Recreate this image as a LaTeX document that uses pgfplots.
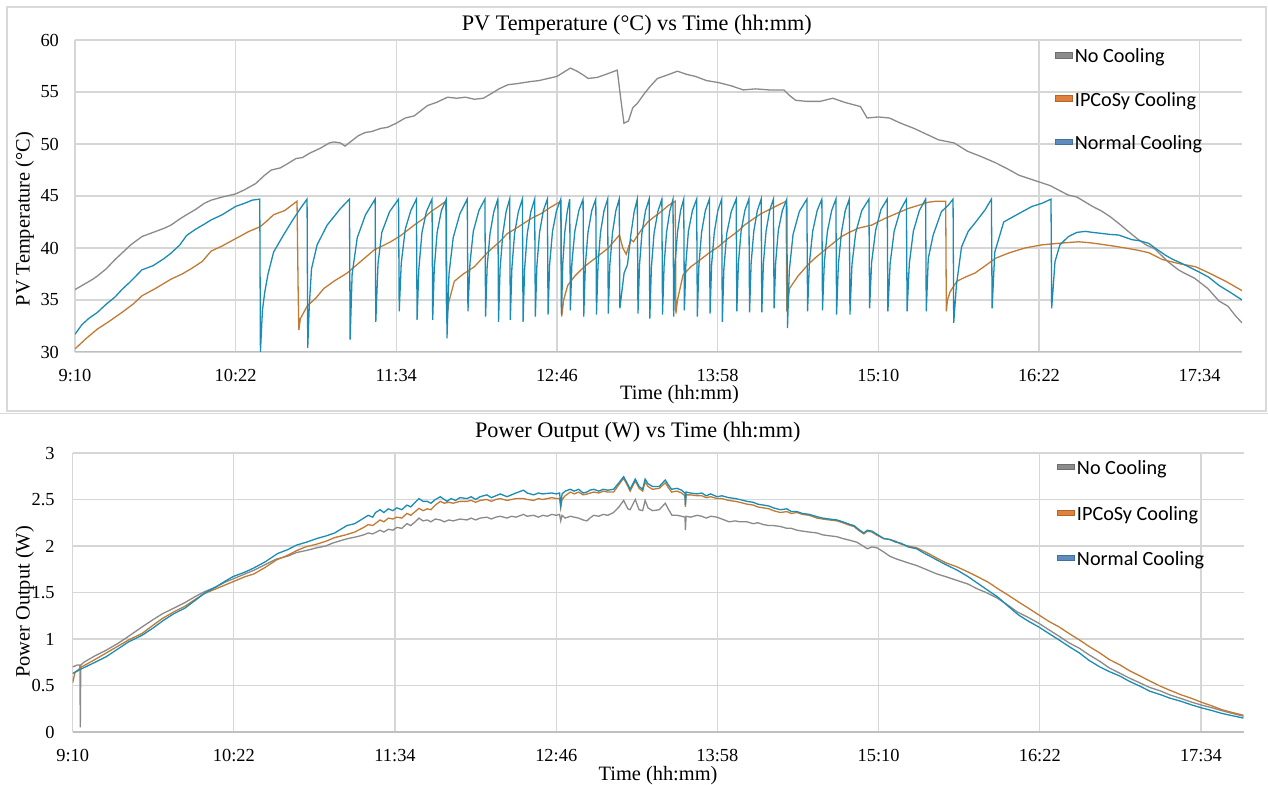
\documentclass[border=0pt]{standalone}
\usepackage{pgfplots}
\pgfplotsset{compat=1.18}
\usepackage{fontspec}
\setmainfont{Liberation Serif}
\newfontfamily\legendfont{Carlito}

\definecolor{nocool}{HTML}{8A8A8A}
\definecolor{ipcosy}{HTML}{C27A33}
\definecolor{normal}{HTML}{1A8BB4}
\definecolor{legGray}{HTML}{8C8C8C}
\definecolor{legGrayD}{HTML}{6E6E6E}
\definecolor{legOrange}{HTML}{E0803D}
\definecolor{legOrangeD}{HTML}{B5652B}
\definecolor{legBlue}{HTML}{5E8BC0}
\definecolor{legBlueD}{HTML}{41719C}
\definecolor{gridgray}{HTML}{D6D6D6}
\definecolor{axisgray}{HTML}{BFBFBF}
\definecolor{framegray}{HTML}{D9D9D9}

\pgfplotsset{
  panel/.style={
    scale only axis, anchor=south west,
    xmin=0, xmax=523,
    xtick={0,72,144,216,288,360,432,504},
    xticklabels={9:10,10:22,11:34,12:46,13:58,15:10,16:22,17:34},
    axis line style={draw=none},
    tick style={draw=none}, major tick length=0pt,
    grid=major,
    major grid style={draw=gridgray, line width=0.6pt},
    tick label style={font=\fontsize{9.2}{11}\selectfont},
    /pgf/number format/assume math mode=true,
    xticklabel style={yshift=-5pt},
    legend cell align=left,
    legend style={draw=none, fill=none, anchor=north west, inner sep=0pt,
      font=\legendfont\fontsize{10.1}{12}\selectfont,
      nodes={inner sep=1pt}, row sep=11pt},
  },
  legGray/.style={legend image code/.code={\draw[fill=legGray, draw=legGrayD, line width=0.4pt] (0pt,-0.3pt) rectangle (8.8pt,2.3pt);}},
  legOrange/.style={legend image code/.code={\draw[fill=legOrange, draw=legOrangeD, line width=0.4pt] (0pt,-0.3pt) rectangle (8.8pt,2.3pt);}},
  legBlue/.style={legend image code/.code={\draw[fill=legBlue, draw=legBlueD, line width=0.4pt] (0pt,-0.3pt) rectangle (8.8pt,2.3pt);}},
}

\begin{document}
\begin{tikzpicture}
\path[use as bounding box] (0pt,0pt) rectangle (634pt,-392.5pt);
\draw[framegray, line width=0.6pt] (3.5pt,-3.5pt) rectangle (633pt,-205.5pt);
\draw[framegray, line width=0.6pt] (0pt,-206.8pt) -- (634pt,-206.8pt);

% ---------------- PV temperature ----------------
\begin{axis}[panel, at={(37.5pt,-176pt)}, width=583.5pt, height=156pt,
  ymin=30, ymax=60, ytick={30,35,...,60},
  yticklabel style={xshift=-4.5pt},
  legend style={at={(rel axis cs:0.839,0.979)}}]
\draw[axisgray, line width=0.7pt] (rel axis cs:0,0) -- (rel axis cs:1,0);
% No Cooling
\addplot[nocool, line width=0.65pt, forget plot] table {
0 36.0
4 36.5
8 37.0
10 37.3
14 38.0
18 38.9
21 39.5
25 40.3
30 41.1
35 41.5
40 41.9
43 42.2
47 42.8
50 43.2
54 43.7
58 44.3
61 44.6
66 44.9
72 45.2
76 45.6
81 46.2
85 47.0
88 47.5
92 47.7
96 48.2
99 48.6
102 48.7
105 49.1
110 49.6
114 50.1
116 50.2
119 50.1
121 49.8
124 50.3
127 50.8
130 51.1
133 51.2
137 51.5
140 51.6
144 52.0
148 52.5
152 52.7
155 53.2
158 53.7
162 54.0
165 54.3
167 54.5
171 54.4
175 54.5
179 54.3
183 54.4
187 54.9
190 55.3
194 55.7
198 55.8
201 55.9
204 56.0
208 56.1
212 56.3
216 56.5
219 56.9
222 57.3
225 57.0
228 56.6
230 56.3
234 56.4
238 56.7
243 57.1
244.5 54.5
246 52.0
248 52.2
250 53.5
252 53.9
255 54.8
257.6 55.5
261 56.3
265 56.6
270 57.0
274 56.7
278 56.5
283 56.1
288.5 55.9
294 55.6
299.5 55.2
305 55.3
311 55.2
317.7 55.2
320 54.7
323 54.2
328 54.1
334 54.1
339.6 54.4
345 54.0
352 53.6
355 52.5
360 52.6
365 52.5
370 52.0
376 51.5
382 50.9
387 50.4
394 50.1
400 49.3
406 48.8
412.5 48.2
418 47.6
423 47.0
430 46.5
437 46.0
445 45.1
449 44.9
456 44.0
459.7 43.6
464 43.0
468.7 42.2
472 41.6
476 40.9
480 40.3
484 39.9
489.7 38.7
494.5 37.9
497 37.6
501.7 37.1
507.7 36.1
512.7 34.9
516.7 34.4
520 33.5
523 32.8
};
% IPCoSy Cooling
\addplot[ipcosy, line width=0.65pt, forget plot] table {
0 30.3
5 31.3
10 32.2
15 32.9
21 33.8
26 34.6
30 35.4
36 36.1
43 37.0
48 37.5
52 38.0
57 38.7
61 39.7
66 40.2
72 40.9
78 41.6
83 42.05
86 42.6
89 43.2
94 43.6
99.5 44.5
100 36.0
100.3 32.1
101 33.2
104 34.4
108 35.2
111.5 36.1
116 36.8
122 37.6
128 38.7
134 39.8
141.5 40.6
146 41.2
152 42.2
156 42.8
159.5 43.5
163 44.0
166.2 44.5
166.4 35.0
166.6 33.1
167.5 34.8
170 36.8
174 37.5
179 38.2
185 39.6
190.3 40.6
193.8 41.4
197 41.8
201.3 42.4
205 42.9
208.8 43.3
213 43.9
217.8 44.5
218.1 33.4
219 35.0
220.8 36.4
224 37.3
226.8 37.9
230 38.5
234.3 39.2
239 40.0
244 41.25
245.5 40.0
247 39.4
249.2 40.8
250.3 40.6
251.5 41.0
254 41.8
256.7 42.5
259 42.9
262.7 43.5
266 44.1
269 44.5
269.3 33.7
270 35.0
272.5 37.4
276 38.2
279.2 38.7
284 39.5
288.2 40.1
292 40.8
297 41.6
300 42.2
304 42.8
307.5 43.3
313 43.9
318.7 44.5
319 33.9
320.2 36.1
324 37.3
328.5 38.4
332 39.1
336 39.8
340 40.5
343.5 41.1
347 41.5
351 41.9
357 42.2
363 42.85
368 43.3
373.4 43.8
378 44.1
382.4 44.4
386 44.5
390.2 44.5
390.5 33.9
391 35.0
392.2 35.8
395.2 36.8
399 37.2
403.4 37.6
408 38.3
412.4 39.0
418.2 39.5
425.7 40.0
433.2 40.3
440.7 40.45
449.7 40.6
455 40.5
460.2 40.35
465 40.2
470.7 40.0
476 39.8
481.2 39.55
487.2 38.9
494.7 38.5
502.2 38.2
508.2 37.6
515.7 36.8
523 35.9
};
% Normal Cooling
\addplot[normal, line width=0.65pt, forget plot] table {
0 31.7
3 32.6
6 33.2
10 33.8
14 34.6
18 35.3
21 36.0
25 36.8
30 37.9
35 38.3
40 39.0
43 39.5
47 40.3
50 41.2
54 41.8
58 42.3
61 42.7
66 43.2
72 44.0
76 44.3
79.4 44.6
82.8 44.7
83.1 30.0
84 34.0
85 35.7
86.5 37.5
89 39.6
93.3 41.2
97.6 42.7
101 43.8
104 44.7
104.3 30.4
105 34.5
106 38.0
108.5 40.3
113 42.2
119 43.8
123 44.7
123.3 31.2
124.2 37.5
126.5 41.0
130.2 43.2
134.5 44.7
134.8 32.9
135.8 38.5
137.5 41.5
141 43.5
145 44.7
145.3 33.9
146.2 38.5
148 41.8
150.5 43.6
153 44.7
153.3 33.1
154.1 38.0
155.5 41.5
157.5 43.5
160 44.7
160.3 33.1
161 38.0
162.3 41.5
164.2 43.6
166.4 44.7
166.7 31.3
167.6 37.5
169.5 41.0
172.5 43.3
175.8 44.7
176.1 33.9
177 38.5
178.5 41.6
181 43.6
183.7 44.7
184.0 33.4
184.7 38.2
186 41.4
187.7 43.5
189.5 44.7
189.8 32.9
190.5 38.0
191.7 41.3
193.2 43.5
194.8 44.7
195.1 33.1
195.8 38.1
197 41.4
198.7 43.5
200.5 44.7
200.8 32.9
201.5 38.0
202.7 41.4
204.3 43.5
206.0 44.7
206.3 33.4
207 38.3
208.2 41.5
209.9 43.6
211.7 44.7
212.0 33.6
212.7 38.4
214 41.6
215.8 43.6
217.7 44.7
218.0 33.6
218.6 38.5
219.5 41.5
220.6 43.5
221.7 44.7
222.0 34.0
222.7 38.6
224 41.6
225.8 43.6
227.7 44.7
228.0 33.4
228.7 38.3
229.9 41.5
231.6 43.6
233.4 44.7
233.7 33.6
234.4 38.4
235.5 41.5
237.1 43.6
238.7 44.7
239.0 33.7
239.7 38.4
240.9 41.5
242.4 43.6
243.9 44.7
244.2 34.2
244.9 35.5
246.1 37.6
247.6 38.4
249.1 41.25
250.6 43.5
252.0 44.7
252.3 33.7
253 38.4
254.1 41.5
255.7 43.6
257.3 44.7
257.6 33.2
258.3 38.1
259.5 41.4
261.2 43.5
263.0 44.7
263.3 33.6
264 38.3
265.1 41.5
266.6 43.6
268.0 44.7
268.3 33.4
268.9 38.3
270 41.5
271.4 43.6
272.8 44.7
273.1 34.0
273.8 38.6
274.9 41.6
276.7 43.6
278.6 44.7
278.9 33.4
279.6 38.3
280.8 41.5
282.5 43.6
284.3 44.7
284.6 33.7
285.3 38.4
286.5 41.5
288.1 43.6
289.8 44.7
290.1 32.9
290.8 38.0
292.1 41.4
294.1 43.5
296.3 44.7
296.6 33.9
297.3 38.5
298.5 41.6
300.2 43.6
302.0 44.7
302.3 33.8
303 38.5
304.2 41.6
305.8 43.6
307.5 44.7
307.8 33.8
308.5 38.5
309.7 41.6
311.3 43.6
313.0 44.7
313.3 34.2
314 38.6
315.2 41.7
317 43.6
319.0 44.7
319.3 32.3
320.1 37.8
321.8 41.3
324.6 43.5
328.0 44.7
328.3 33.9
329.1 38.5
330.6 41.6
332.6 43.6
334.7 44.7
335.0 34.0
335.8 38.6
337.2 41.6
339.1 43.6
341.0 44.7
341.3 33.6
342.1 38.4
343.5 41.5
345.2 43.6
347.0 44.7
347.3 33.6
348.2 38.4
349.9 41.5
352.6 43.6
355.8 44.7
356.1 34.2
357 38.6
358.8 41.7
361.2 43.7
364.0 44.7
364.3 33.9
365.3 38.5
367.1 41.6
369.8 43.6
372.6 44.7
372.9 33.9
373.9 38.5
375.7 41.6
378.4 43.6
381.2 44.7
381.5 33.9
382.4 39.0
384.6 41.25
388.3 43.5
391.3 44.1
393.5 44.7
393.8 32.8
395 36.4
397.3 40.1
400.3 41.6
403.3 42.4
407.8 43.65
410.7 44.7
411.0 34.2
412.2 39.6
416.2 42.5
422.9 43.3
428.9 44.0
433.4 44.3
437.4 44.7
437.7 34.2
439.2 38.7
441.4 40.3
445.2 41.1
449 41.5
452.7 41.6
456 41.5
460.2 41.4
464 41.3
467.7 41.25
473.7 40.8
477 40.7
481.2 40.45
484 40.0
488.7 39.3
492 38.9
496.2 38.5
500 38.1
503.7 37.7
508 37.2
512.7 36.4
518 35.7
523 35.0
};
\addlegendimage{legGray}
\addlegendentry{No Cooling}
\addlegendimage{legOrange}
\addlegendentry{IPCoSy Cooling}
\addlegendimage{legBlue}
\addlegendentry{Normal Cooling}
\end{axis}

% ---------------- Power output ----------------
\begin{axis}[panel, at={(36.35pt,-366pt)}, width=585.4pt, height=139.5pt,
  ymin=0, ymax=3, ytick={0,0.5,...,3},
  yticklabel style={xshift=-5.5pt},
  legend style={at={(rel axis cs:0.840,0.982)}, row sep=12.3pt}]
\draw[axisgray, line width=0.7pt] (rel axis cs:0,0) -- (rel axis cs:1,0);
% No Cooling
\addplot[nocool, line width=0.65pt, forget plot] table {
0 0.70
2 0.72
3.2 0.72
3.4 0.05
3.6 0.72
5 0.75
10 0.82
15 0.88
20 0.95
25 1.03
31 1.13
36 1.21
40 1.27
45 1.33
50 1.39
55 1.46
59 1.51
64 1.56
68 1.61
72 1.65
77 1.70
81 1.74
86 1.80
91 1.86
96 1.89
100 1.93
104 1.95
109 1.98
113 2.00
116 2.03
120 2.06
123 2.08
127 2.10
130 2.12
132 2.14
134 2.13
137.3 2.17
139 2.15
141 2.18
143 2.17
144.8 2.20
147 2.19
149.3 2.24
151 2.22
153 2.26
154.7 2.30
156.5 2.27
158.4 2.28
160 2.26
162 2.29
164.2 2.28
166 2.26
168 2.28
170 2.27
173 2.29
176.1 2.28
178 2.30
180 2.28
182 2.30
185 2.31
187 2.29
189 2.31
191 2.32
194 2.30
196 2.32
198 2.31
201.4 2.34
203 2.32
205.9 2.33
208 2.31
210 2.33
212 2.32
214 2.34
216 2.33
217.5 2.34
218 2.27
218.6 2.33
220 2.30
222.3 2.32
224 2.31
226 2.30
228 2.28
229.7 2.27
231 2.30
232.7 2.33
235 2.32
237 2.34
239 2.33
241.6 2.36
244 2.42
246.1 2.49
248 2.40
249 2.39
251.3 2.50
253 2.39
254.6 2.38
255.7 2.49
257 2.41
259 2.38
262 2.39
264.7 2.46
266 2.40
267.7 2.33
270 2.33
272 2.32
273.5 2.31
273.7 2.17
274 2.32
276 2.31
278.9 2.33
281 2.32
283 2.30
285 2.32
287.8 2.31
290 2.29
293.2 2.26
296 2.27
298 2.26
301.2 2.26
304 2.24
306 2.25
308.6 2.23
311 2.22
313 2.22
316.1 2.21
319 2.19
321 2.19
323.5 2.17
326 2.16
329 2.15
332.5 2.14
335 2.12
338 2.11
341.4 2.10
344 2.08
347.4 2.06
350.4 2.04
353 2.00
355 1.97
357 1.99
359.3 1.98
362 1.94
365 1.89
368 1.86
373 1.82
377 1.79
381 1.75
386 1.70
390 1.67
395 1.63
400 1.59
404 1.54
408 1.50
413 1.44
418 1.36
422 1.29
427 1.23
431.5 1.17
436 1.10
440.6 1.03
445 0.96
449.7 0.90
454 0.83
458.8 0.76
463 0.69
467.9 0.63
472 0.58
477 0.525
481 0.48
486.1 0.44
490 0.40
495.1 0.36
500 0.32
504.2 0.29
509 0.26
513.3 0.23
518 0.20
523 0.17
};
% IPCoSy Cooling
\addplot[ipcosy, line width=0.65pt, forget plot] table {
0 0.53
1 0.64
4 0.70
10 0.78
15 0.85
20 0.92
25 0.99
31 1.06
36 1.15
40 1.22
45 1.29
50 1.35
55 1.43
59 1.49
64 1.54
68 1.58
72 1.62
77 1.67
81 1.70
86 1.77
91 1.85
96 1.90
100 1.95
104 1.99
109 2.02
113 2.05
117 2.09
122 2.12
126 2.15
130 2.20
132 2.23
134 2.22
137.3 2.28
139 2.26
141 2.30
143 2.29
144.8 2.31
147 2.30
149.3 2.35
151 2.33
153 2.37
154.7 2.405
156.5 2.38
158.4 2.40
160 2.39
162 2.44
164.2 2.48
166 2.46
168 2.47
170 2.46
173 2.48
176.1 2.48
178 2.49
180 2.47
182 2.49
185 2.50
187 2.48
189 2.50
191 2.51
194 2.49
196 2.50
198 2.51
201.4 2.51
203 2.50
205.9 2.49
208 2.51
210 2.50
212 2.51
214 2.52
216 2.51
217.5 2.51
218 2.41
218.6 2.50
220 2.54
222.3 2.58
224 2.56
226 2.58
228 2.55
230 2.56
232.7 2.58
235 2.57
237 2.59
239 2.58
241.6 2.58
244 2.66
246.1 2.73
248 2.64
249 2.59
251.3 2.70
253 2.62
254.6 2.59
255.7 2.69
257 2.64
259 2.61
262 2.62
264.7 2.68
266 2.63
267.5 2.58
270 2.59
272 2.57
273.5 2.54
273.7 2.42
274 2.55
276 2.55
278.9 2.54
281 2.54
283 2.52
285 2.53
287.8 2.51
290 2.51
293 2.49
296 2.48
298 2.47
301.2 2.45
304 2.44
306 2.42
308.6 2.41
311 2.40
313 2.38
316.1 2.36
319 2.37
321 2.35
323.5 2.36
326 2.34
329 2.33
332.5 2.30
335 2.29
338 2.28
341.4 2.27
344 2.25
347.4 2.22
349 2.21
351 2.17
353.4 2.13
355 2.16
357 2.15
359 2.12
362.3 2.08
365 2.07
367.8 2.05
370 2.02
373.2 2.00
377 1.98
380.5 1.94
383 1.91
386 1.87
390 1.82
395.1 1.775
400 1.72
404.2 1.67
409 1.61
413.3 1.54
418 1.47
422.4 1.40
427 1.33
431.5 1.26
436 1.19
440.6 1.13
445 1.06
449.7 0.99
454 0.92
458.8 0.85
463 0.78
467.9 0.72
472 0.66
477 0.60
481 0.55
486.1 0.49
490 0.45
495.1 0.40
500 0.36
504.2 0.32
509 0.28
513.3 0.24
518 0.21
523 0.18
};
% Normal Cooling
\addplot[normal, line width=0.65pt, forget plot] table {
0 0.63
4 0.68
10 0.75
15 0.81
20 0.89
25 0.97
31 1.04
36 1.12
40.5 1.20
45 1.27
50 1.33
55 1.42
58.7 1.49
64 1.56
68 1.62
71.5 1.67
77 1.72
80.6 1.76
86 1.83
91.6 1.92
96 1.96
100 2.01
104.3 2.04
109 2.08
113.4 2.11
117 2.14
122.5 2.22
126 2.24
130 2.30
132 2.33
134 2.31
135.3 2.36
137.3 2.39
139 2.36
141 2.40
143 2.38
144.8 2.41
147 2.39
149.3 2.44
151 2.42
153 2.47
154.7 2.51
156.5 2.48
158.4 2.48
160 2.46
162 2.50
164.2 2.53
166 2.50
167.2 2.48
169 2.51
171 2.49
173 2.52
176.1 2.51
178 2.53
180 2.50
182 2.53
185 2.55
187 2.52
189 2.54
191 2.56
194 2.53
196 2.55
198 2.57
201.4 2.60
203 2.57
205.9 2.55
208 2.57
210 2.56
211.8 2.565
214 2.57
216 2.56
217.5 2.57
218 2.44
218.6 2.56
220 2.59
222.3 2.61
224 2.59
226 2.61
228 2.57
229.7 2.58
231 2.60
232.7 2.61
235 2.59
237 2.61
239 2.60
241.6 2.61
244 2.68
246.1 2.745
248 2.66
249 2.61
251.3 2.72
253 2.64
254.6 2.61
255.7 2.72
257 2.67
259 2.64
262 2.64
264.7 2.71
266 2.66
267.5 2.61
270 2.62
272 2.60
273.5 2.57
273.7 2.44
274 2.58
276 2.57
278.9 2.56
281 2.57
283 2.54
285 2.56
287.8 2.53
290 2.54
293 2.52
296 2.51
298 2.50
301.2 2.48
304 2.47
306 2.45
308.6 2.44
311 2.43
313 2.41
316.1 2.39
319 2.40
321 2.37
323.5 2.37
326 2.35
329 2.34
332.5 2.315
335 2.30
338 2.29
341.4 2.28
344 2.26
347.4 2.23
349 2.22
351 2.18
353.4 2.14
355 2.17
357 2.16
359 2.13
362.3 2.08
365 2.07
367.8 2.04
370 2.03
373.2 1.99
377 1.97
380.5 1.92
383 1.89
386 1.85
390 1.80
395.1 1.74
400 1.67
404.2 1.60
409 1.52
413.3 1.45
418 1.35
422.4 1.26
427 1.19
431.5 1.13
436 1.06
440.6 0.99
445 0.92
449.7 0.85
454 0.77
458.8 0.70
463 0.65
467.9 0.60
472 0.545
477 0.49
481 0.44
486.1 0.40
490 0.365
495.1 0.33
500 0.29
504.2 0.26
509 0.23
513.3 0.20
518 0.175
523 0.15
};
\addlegendimage{legGray}
\addlegendentry{No Cooling}
\addlegendimage{legOrange}
\addlegendentry{IPCoSy Cooling}
\addlegendimage{legBlue}
\addlegendentry{Normal Cooling}
\end{axis}

% titles and axis labels
\node[anchor=base, font=\fontsize{11.1}{13}\selectfont] at (318.4pt,-15.3pt) {PV Temperature (°C) vs Time (hh:mm)};
\node[anchor=base, font=\fontsize{10.2}{12}\selectfont] at (339.75pt,-200pt) {Time (hh:mm)};
\node[anchor=base, rotate=90, font=\fontsize{10.2}{12}\selectfont] at (14.75pt,-109.5pt) {PV Temperature (°C)};
\node[anchor=base, font=\fontsize{11.1}{13}\selectfont] at (318.9pt,-218.8pt) {Power Output (W) vs Time (hh:mm)};
\node[anchor=base, font=\fontsize{10.2}{12}\selectfont] at (329pt,-390pt) {Time (hh:mm)};
\node[anchor=base, rotate=90, font=\fontsize{10.2}{12}\selectfont] at (14.75pt,-301pt) {Power Output (W)};
\end{tikzpicture}
\end{document}
